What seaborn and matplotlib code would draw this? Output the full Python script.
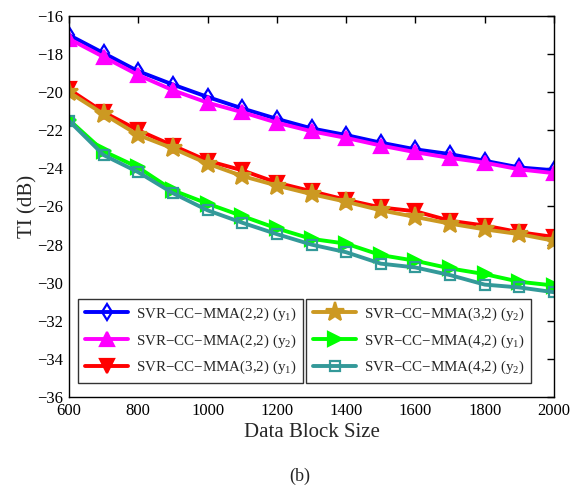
import numpy as np
import pandas as pd
import matplotlib
matplotlib.use("Agg")
import matplotlib.pyplot as plt
import seaborn as sns

block_size = [600, 700, 800, 900, 1000, 1100, 1200, 1300, 1400, 1500, 1600, 1700, 1800, 1900, 2000]

ti_22_y1 = [-17.0, -17.95, -18.9, -19.6, -20.25, -20.85, -21.4, -21.9, -22.25, -22.65, -23.0, -23.25, -23.6, -23.95, -24.1]
ti_22_y2 = [-17.2, -18.15, -19.1, -19.9, -20.55, -21.05, -21.6, -22.05, -22.4, -22.8, -23.15, -23.45, -23.7, -24.05, -24.25]
ti_32_y1 = [-19.85, -21.05, -22.0, -22.8, -23.6, -24.1, -24.75, -25.2, -25.65, -26.05, -26.25, -26.75, -27.0, -27.35, -27.6]
ti_32_y2 = [-20.0, -21.15, -22.25, -22.95, -23.75, -24.4, -24.9, -25.35, -25.75, -26.2, -26.55, -26.9, -27.2, -27.45, -27.8]
ti_42_y1 = [-21.45, -23.1, -23.95, -25.15, -25.85, -26.5, -27.15, -27.7, -27.95, -28.55, -28.85, -29.25, -29.55, -29.95, -30.15]
ti_42_y2 = [-21.5, -23.3, -24.2, -25.3, -26.2, -26.85, -27.45, -28.0, -28.4, -29.0, -29.2, -29.6, -30.1, -30.25, -30.5]

labels = [
    "SVR\u2212CC\u2212MMA(2,2) (y$_1$)",
    "SVR\u2212CC\u2212MMA(2,2) (y$_2$)",
    "SVR\u2212CC\u2212MMA(3,2) (y$_1$)",
    "SVR\u2212CC\u2212MMA(3,2) (y$_2$)",
    "SVR\u2212CC\u2212MMA(4,2) (y$_1$)",
    "SVR\u2212CC\u2212MMA(4,2) (y$_2$)",
]
series = [ti_22_y1, ti_22_y2, ti_32_y1, ti_32_y2, ti_42_y1, ti_42_y2]

colors = ["#0000FF", "#FF00FF", "#FF0000", "#CC9922", "#00FF00", "#339999"]
markers = ["d", "^", "v", "*", ">", "s"]
msizes = [8.5, 9.5, 9.5, 14, 9.5, 7.5]
faces = ["none", None, None, None, None, "none"]

sns.set_style("white")
plt.rcParams["font.family"] = ["Liberation Serif", "DejaVu Serif"]
plt.rcParams["mathtext.fontset"] = "custom"
plt.rcParams["mathtext.rm"] = "Liberation Serif"
plt.rcParams["mathtext.it"] = "Liberation Serif"

fig = plt.figure(figsize=(5.71, 4.9), dpi=100)
ax = fig.add_axes([69/571, 1-397/490, (554-69)/571, (397-16)/490])

df = pd.DataFrame({"size": block_size * 6,
                   "ti": sum(series, []),
                   "series": np.repeat(labels, len(block_size))})

for i, lab in enumerate(labels):
    sub = df[df["series"] == lab]
    kw = dict(marker=markers[i], markersize=msizes[i], markeredgecolor=colors[i],
              markeredgewidth=1.6)
    if faces[i] is not None:
        kw["markerfacecolor"] = faces[i]
    else:
        kw["markerfacecolor"] = colors[i]
    sns.lineplot(data=sub, x="size", y="ti", ax=ax, color=colors[i], linewidth=2.8,
                 label=lab, legend=False, **kw)

ax.set_xlim(600, 2000)
ax.set_ylim(-36, -16)
ax.set_xticks(np.arange(600, 2001, 200))
ax.set_yticks(np.arange(-36, -15, 2))
ax.tick_params(direction="in", length=5, width=1, top=True, right=True,
               labelsize=12, pad=4, colors="black")
for s in ax.spines.values():
    s.set_visible(True)
    s.set_color("black")
    s.set_linewidth(1.0)

ax.set_xlabel("Data Block Size", fontsize=15, labelpad=3)
ax.set_ylabel("TI (dB)", fontsize=15, labelpad=0)

handles = ax.get_lines()
leg_kw = dict(fontsize=10.8, frameon=True, fancybox=False, edgecolor="black",
              handlelength=2.9, labelspacing=0.62, borderpad=0.45, borderaxespad=0,
              handletextpad=0.5, loc="lower left")
leg1 = ax.legend(handles[:3], labels[:3], bbox_to_anchor=(0.019, 0.037), **leg_kw)
leg1.get_frame().set_linewidth(1.0)
ax.add_artist(leg1)
leg2 = ax.legend(handles[3:], labels[3:], bbox_to_anchor=(0.489, 0.037), **leg_kw)
leg2.get_frame().set_linewidth(1.0)

fig.text(0.525, 1-476/490, "(b)", fontsize=13, ha="center", va="center")

fig.savefig("out.png", dpi=100)
